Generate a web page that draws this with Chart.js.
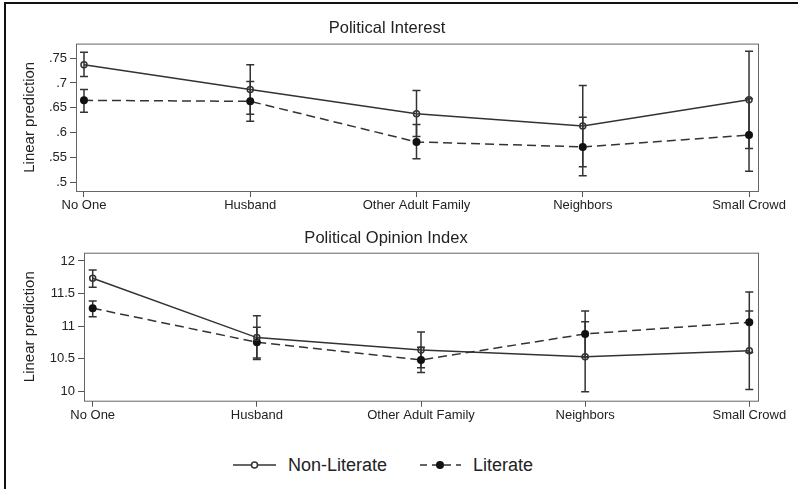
<!DOCTYPE html>
<html>
<head>
<meta charset="utf-8">
<script src="https://cdn.jsdelivr.net/npm/chart.js@4/dist/chart.umd.min.js"></script>
<style>
  body { margin: 0; background: #fff; font-family: "Liberation Sans", Arial, sans-serif; }
  #wrap { position: relative; width: 798px; height: 489px; overflow: hidden; }
  #frame { position: absolute; left: 4px; top: 2px; width: 800px; height: 500px;
           border-top: 2px solid #111; border-left: 2px solid #111; }
  canvas { position: absolute; left: 0; }
  #top { top: 0; }
  #bottom { top: 210px; }
  .key { position: absolute; top: 453px; height: 24px; font-size: 18px; color: #222;
         display: flex; align-items: center; }
  .key svg { margin-right: 11px; }
</style>
</head>
<body>
<div id="wrap">
  <div id="frame"></div>
  <canvas id="top" width="798" height="215"></canvas>
  <canvas id="bottom" width="798" height="225"></canvas>
  <div class="key" style="left:231px">
    <svg width="46" height="12"><line x1="2" y1="6" x2="45" y2="6" stroke="#333" stroke-width="1.5"/><circle cx="23.5" cy="6" r="3" fill="#fff" stroke="#333" stroke-width="1.5"/></svg>
    <span>Non-Literate</span>
  </div>
  <div class="key" style="left:419px">
    <svg width="43" height="12"><line x1="1" y1="6" x2="42" y2="6" stroke="#333" stroke-width="1.5" stroke-dasharray="7,5"/><circle cx="21" cy="6" r="4" fill="#111"/></svg>
    <span>Literate</span>
  </div>
</div>
<script>
// categories shared by both panels
const categories = ["No One", "Husband", "Other Adult Family", "Neighbors", "Small Crowd"];

// Political Interest: predictions and 95% CIs
const interestNonLit   = [0.737, 0.687, 0.638, 0.613, 0.666];
const interestNonLitLo = [0.713, 0.637, 0.592, 0.531, 0.568];
const interestNonLitHi = [0.762, 0.737, 0.685, 0.695, 0.764];
const interestLit      = [0.665, 0.663, 0.581, 0.571, 0.595];
const interestLitLo    = [0.641, 0.623, 0.547, 0.513, 0.522];
const interestLitHi    = [0.687, 0.703, 0.616, 0.631, 0.668];
const interestTicks    = [0.5, 0.55, 0.6, 0.65, 0.7, 0.75];
const interestTickText = [".5", ".55", ".6", ".65", ".7", ".75"];

// Political Opinion Index
const opinionNonLit   = [11.735, 10.824, 10.635, 10.532, 10.624];
const opinionNonLitLo = [11.597, 10.490, 10.360, 9.995, 10.026];
const opinionNonLitHi = [11.862, 11.161, 10.911, 11.069, 11.233];
const opinionLit      = [11.275, 10.753, 10.482, 10.880, 11.060];
const opinionLitLo    = [11.146, 10.510, 10.287, 10.527, 10.595];
const opinionLitHi    = [11.387, 10.983, 10.677, 11.233, 11.525];
const opinionTicks    = [10, 10.5, 11, 11.5, 12];
const opinionTickText = ["10", "10.5", "11", "11.5", "12"];

const ink = "#333";
const font = "'Liberation Sans', Arial, sans-serif";

// plot frame + CI whiskers, drawn under the lines
const panelExtras = {
  id: "panelExtras",
  beforeDatasetsDraw(chart) {
    const { ctx, chartArea: a, scales: { x, y } } = chart;
    ctx.save();
    ctx.strokeStyle = "#666";
    ctx.lineWidth = 1;
    ctx.strokeRect(a.left + 0.5, a.top + 0.5, a.right - a.left, a.bottom - a.top);
    ctx.strokeStyle = ink;
    ctx.lineWidth = 1.5;
    chart.data.datasets.forEach(ds => {
      ds.lo.forEach((lo, i) => {
        const px = x.getPixelForValue(i);
        const y1 = y.getPixelForValue(lo);
        const y2 = y.getPixelForValue(ds.hi[i]);
        ctx.beginPath();
        ctx.moveTo(px, y1); ctx.lineTo(px, y2);
        ctx.moveTo(px - 4, y1); ctx.lineTo(px + 4, y1);
        ctx.moveTo(px - 4, y2); ctx.lineTo(px + 4, y2);
        ctx.stroke();
      });
    });
    ctx.restore();
  }
};

function series(vals) {
  return vals.map((v, i) => ({ x: i, y: v }));
}

function makePanel(id, opts) {
  return new Chart(document.getElementById(id), {
    type: "line",
    data: {
      datasets: [
        {
          label: "Non-Literate",
          data: series(opts.nonLit), lo: opts.nonLitLo, hi: opts.nonLitHi,
          borderColor: ink, borderWidth: 1.5,
          pointRadius: 3, pointBorderWidth: 1.5,
          pointBackgroundColor: "rgba(255,255,255,0)", pointBorderColor: ink
        },
        {
          label: "Literate",
          data: series(opts.lit), lo: opts.litLo, hi: opts.litHi,
          borderColor: ink, borderWidth: 1.5, borderDash: [9, 5],
          pointRadius: 4, pointBorderWidth: 0,
          pointBackgroundColor: "#111", pointBorderColor: "#111"
        }
      ]
    },
    options: {
      responsive: false,
      animation: false,
      devicePixelRatio: 1,
      layout: { padding: { top: 19, left: opts.padLeft, right: 40, bottom: 0 } },
      plugins: {
        legend: { display: false },
        tooltip: { enabled: false },
        title: {
          display: true, text: opts.title, color: "#222",
          font: { family: font, size: 16.5, weight: "normal" },
          padding: { top: 0, bottom: opts.titleGap }
        }
      },
      scales: {
        x: {
          type: "linear", min: opts.xMin, max: opts.xMax,
          afterBuildTicks: s => { s.ticks = categories.map((c, i) => ({ value: i })); },
          afterFit: s => { s.height = opts.xHeight; },
          ticks: {
            color: "#222", padding: 1, maxRotation: 0, autoSkip: false,
            font: { family: font, size: 13 },
            callback: v => categories[v]
          },
          grid: { drawOnChartArea: false, tickLength: 6, color: "#555" },
          border: { display: false }
        },
        y: {
          min: opts.yMin, max: opts.yMax,
          afterBuildTicks: s => { s.ticks = opts.ticks.map(v => ({ value: v })); },
          afterFit: s => { s.width = opts.yWidth; },
          ticks: {
            color: "#222", padding: 3,
            font: { family: font, size: 13 },
            callback: v => opts.tickText[opts.ticks.indexOf(v)]
          },
          grid: { drawOnChartArea: false, tickLength: 6, color: "#555" },
          border: { display: false },
          title: {
            display: true, text: "Linear prediction", color: "#222",
            font: { family: font, size: 15 },
            padding: { top: opts.yTitlePad, bottom: 0 }
          }
        }
      }
    },
    plugins: [panelExtras]
  });
}

makePanel("top", {
  title: "Political Interest",
  nonLit: interestNonLit, nonLitLo: interestNonLitLo, nonLitHi: interestNonLitHi,
  lit: interestLit, litLo: interestLitLo, litHi: interestLitHi,
  ticks: interestTicks, tickText: interestTickText,
  yMin: 0.482, yMax: 0.7795, xMin: -0.048, xMax: 4.054,
  padLeft: 16, yWidth: 60, yTitlePad: 5, xHeight: 24, titleGap: 4.8
});

makePanel("bottom", {
  title: "Political Opinion Index",
  nonLit: opinionNonLit, nonLitLo: opinionNonLitLo, nonLitHi: opinionNonLitHi,
  lit: opinionLit, litLo: opinionLitLo, litHi: opinionLitHi,
  ticks: opinionTicks, tickText: opinionTickText,
  yMin: 9.856, yMax: 12.127, xMin: -0.053, xMax: 4.053,
  padLeft: 14, yWidth: 70, yTitlePad: 7, xHeight: 34.3, titleGap: 3.9
});
</script>
</body>
</html>
